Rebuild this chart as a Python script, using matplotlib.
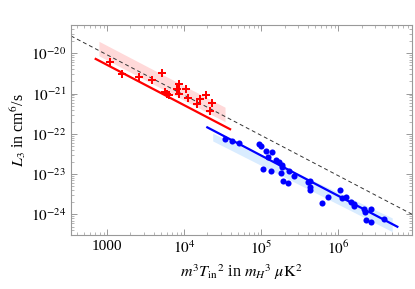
import matplotlib
matplotlib.use("Agg")
import matplotlib.pyplot as plt
import numpy as np

plt.rcParams['font.family'] = ['Liberation Serif', 'DejaVu Serif']
plt.rcParams['mathtext.fontset'] = 'stix'

# red data set
red_x = np.array([1100, 1540, 2590, 3780, 5200, 5670, 5930, 6240, 8090, 8540,
                  8540, 10500, 11100, 14500, 16100, 19400, 22700, 21600])
red_y = np.array([5.98e-21, 3.10e-21, 2.54e-21, 2.14e-21, 3.19e-21, 1.08e-21,
                  9.6e-22, 8.97e-22, 1.30e-21, 1.73e-21, 9.9e-22, 1.29e-21,
                  7.6e-22, 5.5e-22, 7.2e-22, 9.2e-22, 5.85e-22, 3.74e-22])

# blue data set
blue_x = np.array([33800, 42000, 51800, 94200, 99700, 114000, 136000, 123000,
                   156000, 172000, 184000, 185000, 105000, 135000, 179000,
                   229000, 264000, 194000, 219000, 406000, 433000, 429000,
                   425000, 605000, 742000, 1.05e6, 1.13e6, 1.24e6, 1.47e6,
                   1.58e6, 1.61e6, 2.16e6, 2.21e6, 2.67e6, 2.28e6, 2.68e6,
                   3.89e6])
blue_y = np.array([7.60e-23, 6.78e-23, 5.85e-23, 5.68e-23, 4.95e-23, 3.77e-23,
                   3.45e-23, 2.62e-23, 2.25e-23, 1.95e-23, 1.69e-23, 1.53e-23,
                   1.32e-23, 1.22e-23, 1.05e-23, 1.22e-23, 9.0e-24, 6.67e-24,
                   6.05e-24, 6.33e-24, 6.78e-24, 4.67e-24, 4.12e-24, 1.95e-24,
                   2.77e-24, 3.98e-24, 2.49e-24, 2.77e-24, 2.08e-24, 1.84e-24,
                   1.65e-24, 1.35e-24, 1.15e-24, 1.33e-24, 7.2e-25, 6.4e-25,
                   7.9e-25])

# fitted 1/x lines: L3 = C / x
red_fit_x = np.array([708, 39300])
red_C = 10**-17.29
red_band_x = np.array([780, 33800])
red_band_lo = red_C * 10**0.12 / red_band_x
red_band_hi = red_C * 10**0.48 / red_band_x

blue_fit_x = np.array([19900, 5.83e6])
blue_C = 10**-17.54
blue_band_x = np.array([23400, 5.0e6])
blue_band_hi = np.array([10**-21.985, 10**-24.087])
blue_band_lo = np.array([10**-22.176, 10**-24.427])

dash_C = 10**-17.04
xlim = (338, 9.06e6)
ylim = (3.09e-25, 5.0e-20)

fig = plt.figure(figsize=(4.15, 2.89), dpi=100)
ax = fig.add_axes([0.171, 0.187, 0.822, 0.726])

ax.fill_between(red_band_x, red_band_lo, red_band_hi, color='#ffd9d9', lw=0)
ax.fill_between(blue_band_x, blue_band_lo, blue_band_hi, color='#d9ecff', lw=0)

dx = np.array(xlim)
ax.plot(dx, dash_C / dx, color='#333333', lw=0.7, ls=(0, (4, 3)))

ax.plot(red_fit_x, red_C / red_fit_x, color='#ff0000', lw=1.6)
ax.plot(blue_fit_x, blue_C / blue_fit_x, color='#0000ff', lw=1.6)

ax.plot(red_x, red_y, 'P', color='#ff0000', ms=5.2, mew=0, ls='none')
ax.plot(blue_x, blue_y, 'o', color='#0000ff', ms=4.4, mew=0, ls='none')

ax.set_xscale('log')
ax.set_yscale('log')
ax.set_xlim(*xlim)
ax.set_ylim(*ylim)

ax.set_xticks([1e3, 1e4, 1e5, 1e6])
ax.set_xticklabels(['1000', r'$10^4$', r'$10^5$', r'$10^6$'])
ax.set_yticks([1e-24, 1e-23, 1e-22, 1e-21, 1e-20])
ax.set_yticklabels([r'$10^{-24}$', r'$10^{-23}$', r'$10^{-22}$',
                    r'$10^{-21}$', r'$10^{-20}$'])

for s in ax.spines.values():
    s.set_color('#999999')
    s.set_linewidth(0.8)
ax.tick_params(which='both', direction='in', top=True, right=True,
               color='#999999', labelsize=11)
ax.tick_params(which='major', length=4, width=0.7)
ax.tick_params(which='minor', length=2, width=0.5)

ax.set_xlabel(r'$m^3 T_{\mathrm{in}}{}^2$ in $m_H{}^3\ \mu\mathrm{K}^2$',
              fontsize=11.5, labelpad=4)
ax.set_ylabel(r'$L_3$ in cm$^6$/s', fontsize=11.5, labelpad=2)

fig.savefig('out.png', dpi=100)
